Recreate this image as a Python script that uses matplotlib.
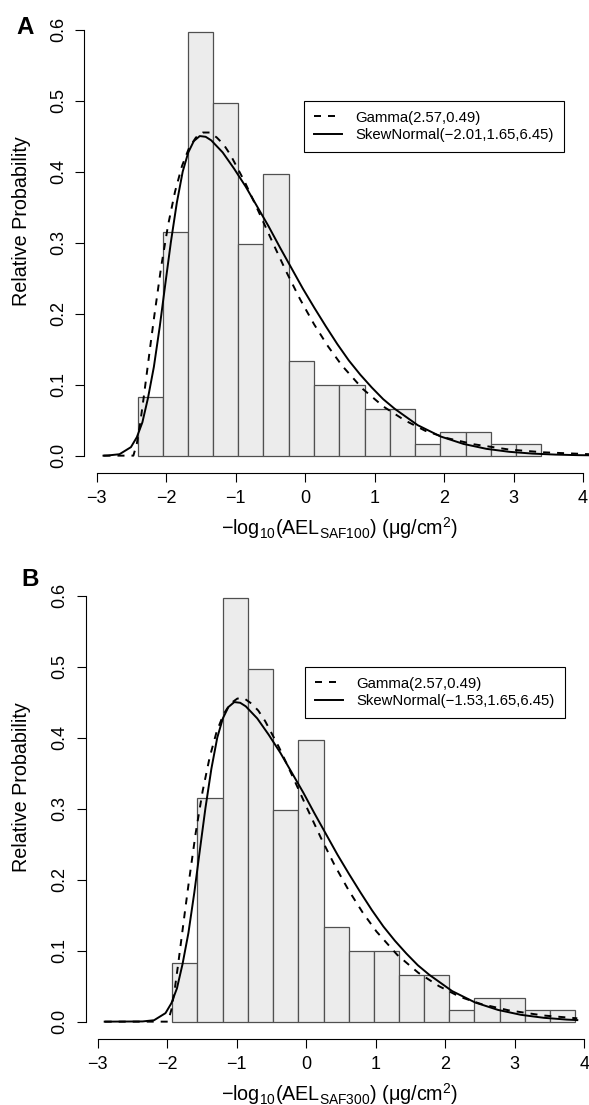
import matplotlib
matplotlib.use('Agg')
import matplotlib.pyplot as plt

plt.rcParams['font.family'] = 'Liberation Sans'
plt.rcParams['mathtext.fontset'] = 'custom'
plt.rcParams['mathtext.rm'] = 'Liberation Sans'
plt.rcParams['mathtext.it'] = 'Liberation Sans:italic'
plt.rcParams['mathtext.bf'] = 'Liberation Sans:bold'

# histogram (same heights in both panels, bins shifted)
edges_a = [-2.41, -2.05, -1.68, -1.32, -0.96, -0.60, -0.23, 0.13, 0.49, 0.86,
           1.22, 1.58, 1.94, 2.31, 2.67, 3.03, 3.39]
edges_b = [-1.93, -1.57, -1.20, -0.84, -0.48, -0.12, 0.25, 0.61, 0.97, 1.34,
           1.70, 2.06, 2.42, 2.79, 3.15, 3.51, 3.87]
heights = [0.083, 0.315, 0.597, 0.497, 0.298, 0.397, 0.133, 0.100, 0.100, 0.066,
           0.066, 0.017, 0.033, 0.033, 0.017, 0.017]

# skew normal curve, panel A
sn_x_a = [-2.9, -2.835, -2.67, -2.505, -2.42, -2.34, -2.26, -2.175, -2.09, -2.01,
          -1.93, -1.845, -1.76, -1.68, -1.60, -1.515, -1.43, -1.35, -1.185, -1.02,
          -0.855, -0.69, -0.525, -0.36, -0.195, -0.03, 0.135, 0.30, 0.465, 0.63,
          0.795, 0.96, 1.125, 1.29, 1.62, 1.95, 2.28, 2.61, 2.94, 3.27, 3.60, 3.93, 4.10]
sn_y_a = [0.0, 0.0003, 0.002, 0.012, 0.026, 0.047, 0.081, 0.125, 0.182, 0.242,
          0.301, 0.356, 0.400, 0.427, 0.443, 0.450, 0.449, 0.444, 0.427, 0.404,
          0.379, 0.351, 0.323, 0.293, 0.264, 0.235, 0.208, 0.182, 0.157, 0.134,
          0.114, 0.096, 0.0795, 0.066, 0.043, 0.027, 0.0165, 0.0096, 0.0054, 0.0029,
          0.0015, 0.0007, 0.0005]
# gamma curve, panel A
ga_x_a = [-2.9, -2.47, -2.42, -2.37, -2.32, -2.27, -2.22, -2.17, -2.07, -1.97,
          -1.87, -1.77, -1.67, -1.57, -1.47, -1.37, -1.27, -1.17, -1.07, -0.87,
          -0.67, -0.47, -0.27, -0.07, 0.13, 0.33, 0.53, 0.83, 1.13, 1.43,
          1.73, 2.03, 2.43, 2.93, 3.43, 4.10]
ga_y_a = [0.0, 0.0, 0.017, 0.047, 0.083, 0.121, 0.159, 0.196, 0.266, 0.325,
          0.372, 0.408, 0.433, 0.448, 0.455, 0.455, 0.448, 0.438, 0.423, 0.386,
          0.344, 0.301, 0.259, 0.220, 0.185, 0.154, 0.127, 0.094, 0.069, 0.050,
          0.035, 0.025, 0.016, 0.0087, 0.0047, 0.002]

# skew normal curve, panel B
sn_x_b = [-2.9, -2.355, -2.19, -2.025, -1.94, -1.86, -1.78, -1.695, -1.61, -1.53,
          -1.45, -1.365, -1.28, -1.20, -1.12, -1.035, -0.95, -0.87, -0.705, -0.54,
          -0.375, -0.21, -0.045, 0.12, 0.285, 0.45, 0.615, 0.78, 0.945, 1.11,
          1.275, 1.44, 1.605, 1.77, 2.10, 2.43, 2.76, 3.09, 3.42, 3.75, 3.90]
sn_y_b = [0.0, 0.0003, 0.002, 0.012, 0.026, 0.047, 0.081, 0.125, 0.182, 0.242,
          0.301, 0.356, 0.400, 0.427, 0.443, 0.450, 0.449, 0.444, 0.427, 0.404,
          0.379, 0.351, 0.323, 0.293, 0.264, 0.235, 0.208, 0.182, 0.157, 0.134,
          0.114, 0.096, 0.0795, 0.066, 0.043, 0.027, 0.0165, 0.0096, 0.0054, 0.0029,
          0.0022]
# gamma curve, panel B
ga_x_b = [-2.9, -1.99, -1.94, -1.89, -1.84, -1.79, -1.74, -1.69, -1.59, -1.49,
          -1.39, -1.29, -1.19, -1.09, -0.99, -0.89, -0.79, -0.69, -0.59, -0.39,
          -0.19, 0.01, 0.21, 0.41, 0.61, 0.81, 1.01, 1.31, 1.61, 1.91,
          2.21, 2.51, 2.91, 3.41, 3.90]
ga_y_b = [0.0, 0.0, 0.017, 0.047, 0.083, 0.121, 0.159, 0.196, 0.266, 0.325,
          0.372, 0.408, 0.433, 0.448, 0.455, 0.455, 0.448, 0.438, 0.423, 0.386,
          0.344, 0.301, 0.259, 0.220, 0.185, 0.154, 0.127, 0.094, 0.069, 0.050,
          0.035, 0.025, 0.016, 0.0087, 0.0047]

x_ticks = [-3, -2, -1, 0, 1, 2, 3, 4]
y_ticks = [0.0, 0.1, 0.2, 0.3, 0.4, 0.5, 0.6]

W, H = 589, 1105
fs_tick = 13
fs_lab = 14.2


def panel(rect, edges, sx, sy, gx, gy, sn_label, saf, letter, letter_xy, top_px):
    ax = fig.add_axes(rect)
    widths = [edges[i + 1] - edges[i] for i in range(len(heights))]
    ax.bar(edges[:-1], heights, width=widths, align='edge', color='#ececec',
           edgecolor='#505050', linewidth=0.9, zorder=1)
    ax.plot(gx, gy, color='black', lw=1.4, dashes=(3.6, 3.6), zorder=3,
            label='Gamma(2.57,0.49)', clip_on=False)
    ax.plot(sx, sy, color='black', lw=1.4, zorder=3, label=sn_label, clip_on=False)
    ax.set_xlim(-3.176, 4.09)
    ax.set_ylim(-0.024, 0.624)
    for s in ['top', 'right']:
        ax.spines[s].set_visible(False)
    ax.spines['left'].set_bounds(0, 0.6)
    ax.spines['bottom'].set_bounds(-3, 4)
    for s in ['left', 'bottom']:
        ax.spines[s].set_linewidth(0.8)
    ax.set_xticks(x_ticks)
    ax.set_xticklabels(['\u2212%d' % -t if t < 0 else '%d' % t for t in x_ticks])
    ax.set_yticks(y_ticks)
    ax.set_yticklabels(['%.1f' % t for t in y_ticks], rotation=90, va='center')
    ax.tick_params(direction='out', length=6.6, width=0.8, pad=6, labelsize=fs_tick)
    leg = ax.legend(loc='upper left', bbox_to_anchor=(0.4356, 0.8083), borderaxespad=0,
                    fontsize=10.7, handlelength=1.88, handletextpad=0.9,
                    borderpad=0.67, labelspacing=0.25, fancybox=False, framealpha=1)
    leg.get_frame().set_edgecolor('black')
    leg.get_frame().set_linewidth(0.8)
    fig.text(letter_xy[0] / W, 1 - letter_xy[1] / H, letter, ha='center', va='center',
             fontsize=17.4, fontweight='bold')
    fig.text(22 / W, 1 - (top_px + 208.5) / H, 'Relative Probability', rotation=90,
             ha='center', va='center', fontsize=fs_lab)
    xlab = '\u2212log$_{10}$(AEL$_{\\mathrm{' + saf + '}}$) (\u03bcg/cm$^{2}$)'
    fig.text(340 / W, 1 - (top_px + 522.5) / H, xlab, ha='center', va='baseline',
             fontsize=fs_lab)
    return ax


fig = plt.figure(figsize=(W / 100, H / 100), dpi=100)
panel([84.3 / W, 1 - 472.7 / H, 505 / W, 460.2 / H], edges_a, sn_x_a, sn_y_a,
      ga_x_a, ga_y_a, 'SkewNormal(\u22122.01,1.65,6.45)', 'SAF100', 'A', (25, 28), 12.5)
panel([85.5 / W, 1 - 1038.7 / H, 505 / W, 460.2 / H], edges_b, sn_x_b, sn_y_b,
      ga_x_b, ga_y_b, 'SkewNormal(\u22121.53,1.65,6.45)', 'SAF300', 'B', (30, 579), 578.5)

fig.savefig('out.png', dpi=100)
